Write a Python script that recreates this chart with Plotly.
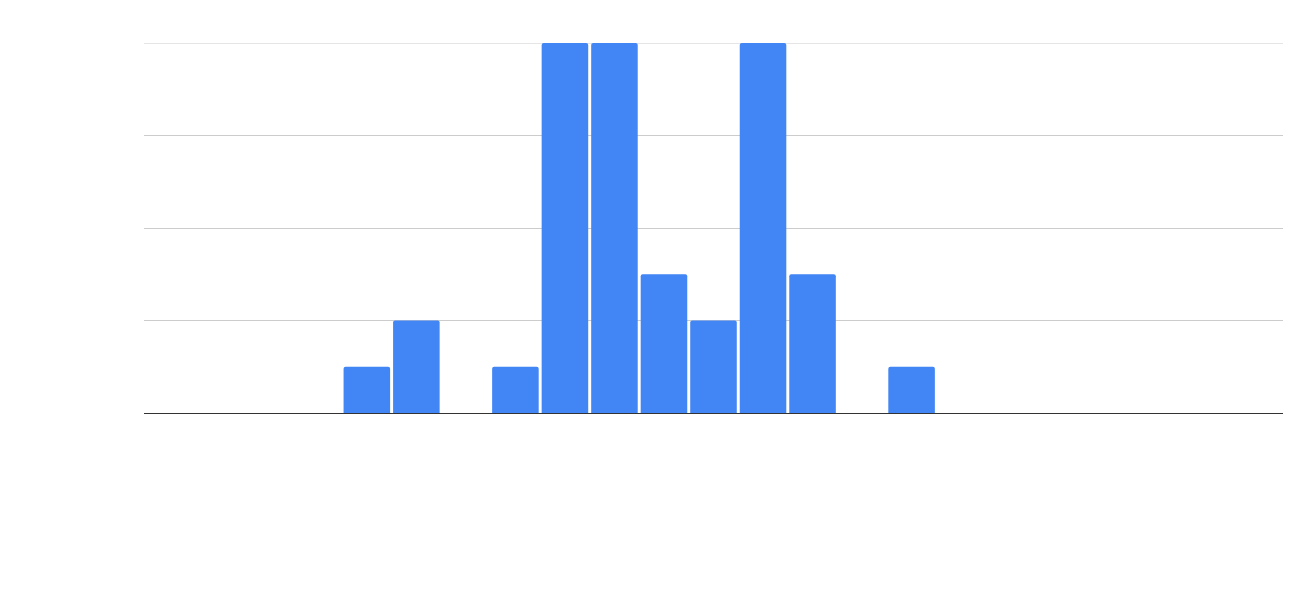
import plotly.graph_objects as go

categories = list(range(23))
values = [0, 0, 0, 0, 1, 2, 0, 1, 8, 8, 3, 2, 8, 3, 0, 1, 0, 0, 0, 0, 0, 0, 0]
y_max = 8

fig = go.Figure(go.Bar(
    x=categories, y=values,
    marker=dict(color="#4285F4", line=dict(width=0), cornerradius=2),
    hoverinfo="skip",
))
fig.add_shape(type="line", xref="paper", yref="y", x0=0, x1=1, y0=y_max, y1=y_max,
              line=dict(color="#cccccc", width=1), layer="below")
fig.update_layout(
    width=1305, height=583,
    margin=dict(l=136, r=30, t=35, b=178),
    paper_bgcolor="white", plot_bgcolor="white",
    bargap=0.06,
    showlegend=False,
    xaxis=dict(range=[-0.5, 22.5], showticklabels=False, showgrid=False,
               zeroline=False, showline=False, ticks=""),
    yaxis=dict(range=[0, y_max], tickvals=[0, 2, 4, 6, 8], showticklabels=False,
               showgrid=True, gridcolor="#cccccc", gridwidth=1,
               zeroline=True, zerolinecolor="#333333", zerolinewidth=1,
               showline=False, ticks=""),
)
fig.write_html("out.html")
